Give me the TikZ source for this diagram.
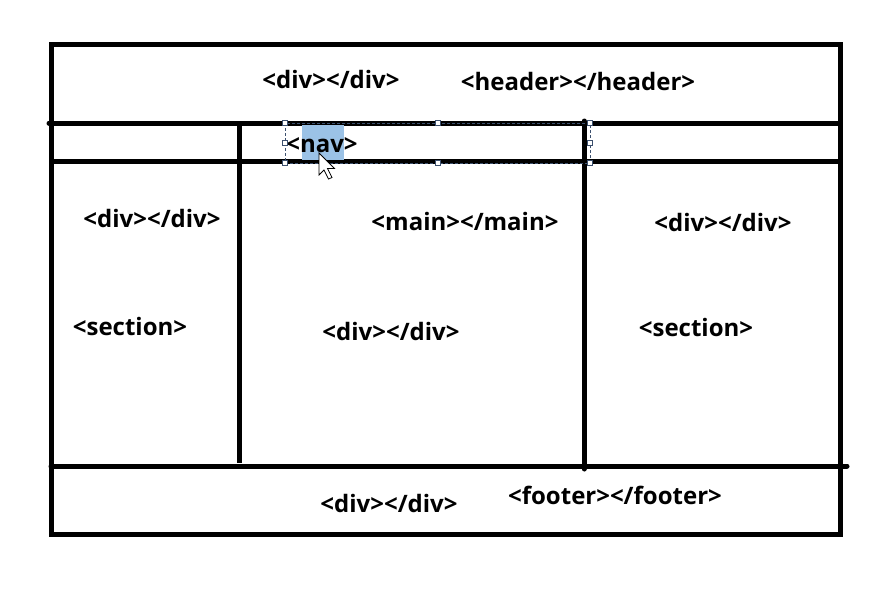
\documentclass[tikz,border=0pt]{standalone}
\usepackage{fontspec}
\setmainfont{Open Sans}
\definecolor{hl}{RGB}{155,194,230}
\definecolor{selc}{RGB}{60,80,110}
\begin{document}
\begin{tikzpicture}[x=1pt,y=-1pt,
  wall/.style={line width=5pt,black},
  lbl/.style={font=\bfseries\fontsize{24}{28}\selectfont,inner sep=0pt,anchor=center},
  handle/.style={draw=selc,fill=white,line width=0.6pt,minimum size=5pt,inner sep=0pt,rectangle}]
\useasboundingbox (0,0) rectangle (895,614);
% walls
\draw[wall] (51,44) rectangle (840,534);
\draw[wall,line cap=round] (49,123) -- (840,123);
\draw[wall] (51,161) -- (840,161);
\draw[wall] (239,123) -- (239,463);
\draw[wall,line cap=round] (584,121) -- (584,469);
\draw[wall,line cap=round] (51,466) -- (847,466);
% nav highlight
\fill[hl] (302,125) rectangle (344,160);
% labels
\node[lbl] (d1) at (331,79) {<div></div>};
\node[lbl] (hd) at (578,81) {<header></header>};
\node[lbl] (nav) at (322,145) {<nav>};
\node[lbl] (d2) at (152,218) {<div></div>};
\node[lbl] (mn) at (465,221) {<main></main>};
\node[lbl] (d3) at (723,222) {<div></div>};
\node[lbl] (s1) at (130,326) {<section>};
\node[lbl] (d4) at (391,331) {<div></div>};
\node[lbl] (s2) at (696,327) {<section>};
\node[lbl] (d5) at (389,503) {<div></div>};
\node[lbl] (ft) at (615,495) {<footer></footer>};
% selection box
\draw[selc,dashed,line width=0.7pt,dash pattern=on 3pt off 2pt] (285,123) rectangle (590,163);
\foreach \p in {(285,123),(438,123),(590,123),(285,143),(590,143),(285,163),(438,163),(590,163)}
  \node[handle] at \p {};
% cursor
\draw[fill=white,line width=0.8pt,line join=miter] (319,153) -- (319,175) -- (324,170) -- (328.5,179) -- (332,177.5) -- (327.5,168.5) -- (334.5,168.5) -- cycle;
\end{tikzpicture}
\end{document}
